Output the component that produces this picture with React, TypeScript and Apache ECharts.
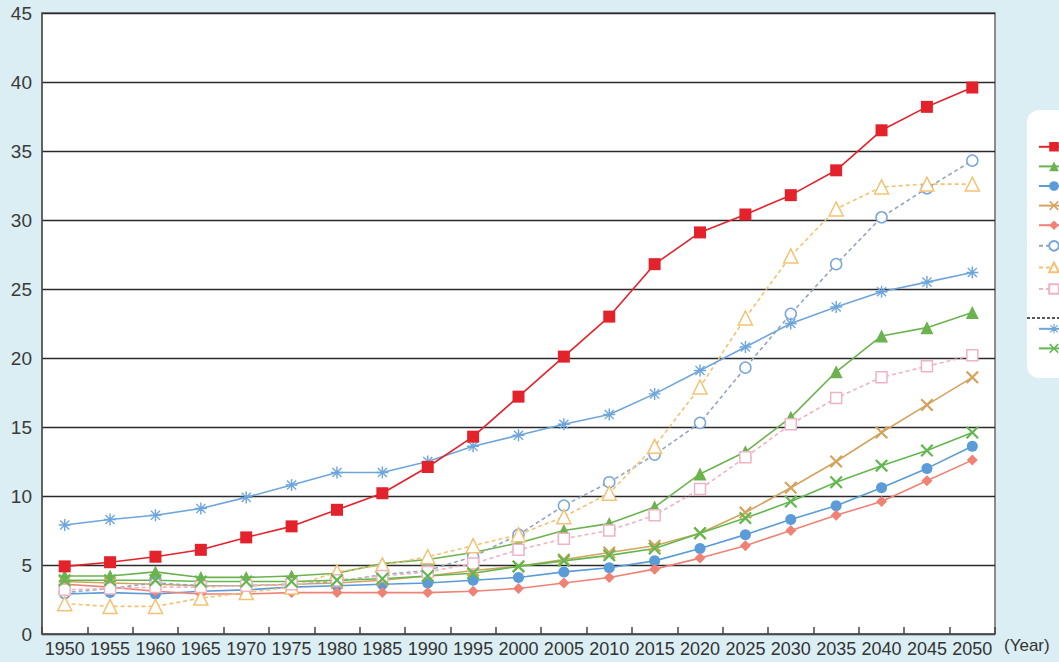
import React, { useEffect, useRef } from "react";
import * as echarts from "echarts";

const years = ["1950","1955","1960","1965","1970","1975","1980","1985","1990","1995","2000","2005","2010","2015","2020","2025","2030","2035","2040","2045","2050"];
const yTicks = [0, 5, 10, 15, 20, 25, 30, 35, 40, 45];

const japan = [4.9,5.2,5.6,6.1,7.0,7.8,9.0,10.2,12.1,14.3,17.2,20.1,23.0,26.8,29.1,30.4,31.8,33.6,36.5,38.2,39.6];
const china = [4.2,4.2,4.5,4.1,4.1,4.2,4.4,5.1,5.4,5.9,6.6,7.5,8.0,9.2,11.6,13.2,15.7,19.0,21.6,22.2,23.3];
const india = [2.9,3.0,2.9,3.1,3.2,3.4,3.5,3.6,3.7,3.9,4.1,4.5,4.8,5.3,6.2,7.2,8.3,9.3,10.6,12.0,13.6];
const indonesia = [3.8,3.7,3.6,3.5,3.5,3.6,3.7,3.9,4.2,4.6,4.9,5.4,5.9,6.4,7.3,8.8,10.6,12.5,14.6,16.6,18.6];
const philippines = [3.6,3.4,3.1,2.9,2.9,3.0,3.0,3.0,3.0,3.1,3.3,3.7,4.1,4.7,5.5,6.4,7.5,8.6,9.6,11.1,12.6];
const korea = [3.0,3.3,3.7,3.5,3.5,3.6,3.8,4.3,4.6,5.6,7.2,9.3,11.0,13.0,15.3,19.3,23.2,26.8,30.2,32.3,34.3];
const singapore = [2.2,2.0,2.0,2.6,3.0,3.4,4.5,5.0,5.6,6.4,7.2,8.5,10.2,13.6,17.9,22.9,27.4,30.8,32.4,32.6,32.6];
const thailand = [3.2,3.3,3.4,3.4,3.5,3.6,3.9,4.2,4.5,5.1,6.1,6.9,7.5,8.6,10.5,12.8,15.2,17.1,18.6,19.4,20.2];
const developed = [7.9,8.3,8.6,9.1,9.9,10.8,11.7,11.7,12.5,13.6,14.4,15.2,15.9,17.4,19.1,20.8,22.5,23.7,24.8,25.5,26.2];
const developing = [3.9,3.9,3.9,3.8,3.8,3.8,3.9,4.0,4.2,4.4,4.9,5.3,5.7,6.2,7.3,8.4,9.6,11.0,12.2,13.3,14.6];

const xPath = "path://M0,1.2 L1.2,0 L5,3.8 L8.8,0 L10,1.2 L6.2,5 L10,8.8 L8.8,10 L5,6.2 L1.2,10 L0,8.8 L3.8,5 Z";
const starPath = "path://M4.4,0 L5.6,0 L5.6,4.4 L10,4.4 L10,5.6 L5.6,5.6 L5.6,10 L4.4,10 L4.4,5.6 L0,5.6 L0,4.4 L4.4,4.4 Z M0.8,1.6 L1.6,0.8 L5,4.2 L8.4,0.8 L9.2,1.6 L5.8,5 L9.2,8.4 L8.4,9.2 L5,5.8 L1.6,9.2 L0.8,8.4 L4.2,5 Z";

const FONT = "'Liberation Sans', Arial, sans-serif";

function mk(name: string, data: number[], opt: any) {
  const open = !!opt.open;
  return {
    name,
    type: "line",
    data,
    symbol: opt.symbol,
    symbolSize: opt.size,
    z: opt.z || 3,
    lineStyle: { color: opt.line || opt.color, width: 1.6, type: opt.dashed ? [4, 3] : "solid" },
    itemStyle: open
      ? { color: "#ffffff", borderColor: opt.color, borderWidth: 1.5 }
      : { color: opt.color, borderWidth: 0 },
    emphasis: { disabled: true },
  };
}

export default function App() {
  const ref = useRef<HTMLDivElement>(null);
  useEffect(() => {
    document.body.style.margin = "0";
    const chart = echarts.init(ref.current!, null, { renderer: "svg" });
    const series = [
      mk("Japan", japan, { symbol: "rect", size: 12, color: "#e3222b", z: 6 }),
      mk("China", china, { symbol: "triangle", size: 13, color: "#6cb34f" }),
      mk("India", india, { symbol: "circle", size: 11, color: "#5b9bd8" }),
      mk("Indonesia", indonesia, { symbol: xPath, size: 13, color: "#d4a45e" }),
      mk("Philippines", philippines, { symbol: "diamond", size: 11, color: "#ef8275" }),
      mk("Republic of Korea", korea, { symbol: "circle", size: 11, color: "#7aa6d8", line: "#94a6bc", dashed: true, open: true }),
      mk("Singapore", singapore, { symbol: "triangle", size: 14, color: "#f3c272", dashed: true, open: true }),
      mk("Thailand", thailand, { symbol: "rect", size: 11, color: "#efb3c3", dashed: true, open: true }),
      mk("More developed regions", developed, { symbol: starPath, size: 12, color: "#6ea6dc" }),
      mk("Less developed regions", developing, { symbol: xPath, size: 13, color: "#62b84e" }),
    ];
    const legendCommon = {
      orient: "vertical",
      left: 1027,
      padding: [0, 0, 0, 11],
      itemWidth: 30,
      itemHeight: 12,
      itemGap: 10,
      formatter: () => "",
      textStyle: { fontSize: 10, lineHeight: 12 },
      selectedMode: false,
      z: 5,
    };
    chart.setOption({
      animation: false,
      backgroundColor: "#daeef3",
      grid: {
        left: 42, right: 64, top: 13, bottom: 28,
        show: true, backgroundColor: "#ffffff", borderColor: "#6b6b6b", borderWidth: 1.5,
      },
      xAxis: {
        type: "category",
        data: years,
        boundaryGap: true,
        axisLine: { show: true, lineStyle: { color: "#555", width: 1.5 } },
        axisTick: { show: true, inside: true, length: 7, lineStyle: { color: "#444", width: 1.5 } },
        axisLabel: { interval: 0, margin: 6, fontSize: 18, color: "#333", fontFamily: FONT },
        splitLine: { show: false },
      },
      yAxis: {
        type: "value",
        min: yTicks[0],
        max: yTicks[yTicks.length - 1],
        interval: 5,
        axisLine: { show: true, lineStyle: { color: "#555", width: 1.5 } },
        axisTick: { show: false },
        axisLabel: { margin: 10, fontSize: 19, color: "#3a3a3a", fontFamily: FONT },
        splitLine: { show: true, lineStyle: { color: "#2a2a2a", width: 1.4 } },
      },
      legend: [
        { ...legendCommon, top: 142, data: series.slice(0, 8).map((s) => s.name) },
        { ...legendCommon, top: 324, data: series.slice(8).map((s) => s.name) },
      ],
      graphic: [
        { type: "rect", left: 1027, top: 110, z: 1, shape: { width: 60, height: 268, r: 12 }, style: { fill: "#ffffff" } },
        { type: "line", z: 2, shape: { x1: 1027, y1: 318, x2: 1059, y2: 318 }, style: { stroke: "#222", lineWidth: 1.3, lineDash: [3, 2] } },
        { type: "text", left: 1004, top: 637, z: 2, style: { text: "(Year)", fontSize: 17, fill: "#333", fontFamily: FONT } },
      ],
      series,
    });
    return () => chart.dispose();
  }, []);
  return <div ref={ref} style={{ position: "absolute", left: 0, top: 0, width: 1059, height: 662 }} />;
}
